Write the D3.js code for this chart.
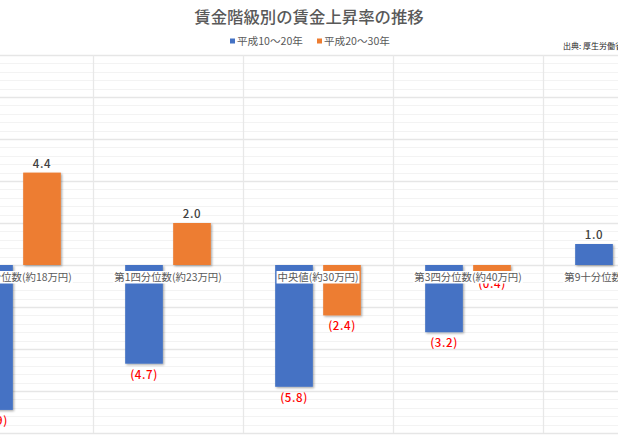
<!DOCTYPE html>
<html>
<head>
<meta charset="utf-8">
<script src="https://cdn.jsdelivr.net/npm/d3@7"></script>
<style>
  body { margin: 0; background: #fff; }
  svg { font-family: "Noto Sans CJK JP", "Noto Sans", sans-serif; }
</style>
</head>
<body>
<svg width="618" height="440"></svg>
<script>
// Chart data
var categories = ["第1十分位数(約18万円)", "第1四分位数(約23万円)", "中央値(約30万円)", "第3四分位数(約40万円)", "第9十分位数(約55万円)"];
var seriesNames = ["平成10～20年", "平成20～30年"];
var h10to20 = [-6.9, -4.7, -5.8, -3.2, 1.0];
var h20to30 = [4.4, 2.0, -2.4, -0.4, 0.6];
var colors = ["#4472C4", "#ED7D31"];

var rows = categories.map(function(c, i) {
    return {cat: c, values: [
        {s: seriesNames[0], v: h10to20[i]},
        {s: seriesNames[1], v: h20to30[i]}
    ]};
});

var svg = d3.select('svg');
var svgWidth = +svg.attr('width');

// drop shadow like the spreadsheet bars
var defs = svg.append('defs');
defs.append('filter').attr('id', 'shadow')
    .attr('x', '-20%').attr('y', '-20%').attr('width', '140%').attr('height', '140%')
  .append('feDropShadow')
    .attr('dx', 1.2).attr('dy', 1.2).attr('stdDeviation', 0.9)
    .attr('flood-color', '#000').attr('flood-opacity', 0.35);

// the plot area is wider than the picture, its sides are cut off
var plot = {l: -57, r: 693, t: 55, b: 433};

var x0 = d3.scaleBand().domain(categories).range([plot.l, plot.r]);
var x1 = d3.scaleBand().domain(seriesNames).range([0, x0.bandwidth()])
    .paddingInner(0.215).paddingOuter(0.67);
var y = d3.scaleLinear().domain([-8, 10]).range([plot.b, plot.t]);

var color = d3.scaleOrdinal().domain(seriesNames).range(colors);

// gridlines
var gridG = svg.append('g');
var minorTicks = d3.range(-8, 10.001, 0.4).filter(function(t) {
    return Math.abs(Math.round(t / 2) * 2 - t) > 0.01;
});
gridG.selectAll('.minor').data(minorTicks).enter().append('line')
    .attr('x1', 0).attr('x2', svgWidth)
    .attr('y1', function(d) { return Math.round(y(d)) + 0.5; })
    .attr('y2', function(d) { return Math.round(y(d)) + 0.5; })
    .attr('stroke', '#f3f3f3').attr('stroke-width', 1);
gridG.selectAll('.major').data(d3.range(-8, 10.001, 2)).enter().append('line')
    .attr('x1', 0).attr('x2', svgWidth)
    .attr('y1', function(d) { return Math.round(y(d)) + 0.5; })
    .attr('y2', function(d) { return Math.round(y(d)) + 0.5; })
    .attr('stroke', '#e6e6e6').attr('stroke-width', 1.3);
gridG.selectAll('.vert').data(categories.slice(1)).enter().append('line')
    .attr('x1', function(d) { return Math.round(x0(d)) + 0.5; })
    .attr('x2', function(d) { return Math.round(x0(d)) + 0.5; })
    .attr('y1', plot.t).attr('y2', plot.b)
    .attr('stroke', '#e8e8e8').attr('stroke-width', 1.3);

// bars
var groups = svg.selectAll('.grp').data(rows).enter().append('g')
    .attr('class', 'grp')
    .attr('transform', function(d) { return 'translate(' + [x0(d.cat), 0] + ')'; });

groups.selectAll('rect').data(function(d) { return d.values; }).enter().append('rect')
    .attr('x', function(d) { return x1(d.s); })
    .attr('width', x1.bandwidth())
    .attr('y', function(d) { return y(Math.max(0, d.v)); })
    .attr('height', function(d) { return Math.abs(y(d.v) - y(0)); })
    .attr('fill', function(d) { return color(d.s); })
    .attr('filter', 'url(#shadow)');

// value labels
groups.selectAll('.val').data(function(d) { return d.values; }).enter().append('text')
    .attr('class', 'val')
    .attr('x', function(d) { return x1(d.s) + x1.bandwidth() / 2; })
    .attr('y', function(d) { return d.v >= 0 ? y(d.v) - 5 : y(d.v) + 15; })
    .attr('text-anchor', 'middle')
    .style('font-size', '11.5px')
    .style('font-weight', '500')
    .style('letter-spacing', '0.6px')
    .attr('fill', function(d) { return d.v >= 0 ? '#404040' : '#ff0000'; })
    .text(function(d) {
        return d.v >= 0 ? d.v.toFixed(1) : '(' + Math.abs(d.v).toFixed(1) + ')';
    });

// category labels with white boxes
var catG = svg.selectAll('.cat').data(categories).enter().append('g').attr('class', 'cat');
var catText = catG.append('text')
    .attr('x', function(d) { return x0(d) + x0.bandwidth() / 2; })
    .attr('y', y(0) + 16)
    .attr('text-anchor', 'middle')
    .style('font-size', '10.4px')
    .attr('fill', '#595959')
    .text(function(d) { return d; });
catText.each(function() {
    var b = this.getBBox();
    d3.select(this.parentNode).insert('rect', 'text')
        .attr('x', b.x - 1).attr('y', y(0) + 6)
        .attr('width', b.width + 2).attr('height', 12.5)
        .attr('fill', '#fff');
});

// title
svg.append('text')
    .attr('x', 309).attr('y', 23)
    .attr('text-anchor', 'middle')
    .style('font-size', '16.4px')
    .style('font-weight', '500')
    .attr('fill', '#595959')
    .text('賃金階級別の賃金上昇率の推移');

// legend
var legendX = [230, 317];
var legend = svg.selectAll('.legend').data(seriesNames).enter().append('g')
    .attr('class', 'legend')
    .attr('transform', function(d, i) { return 'translate(' + [legendX[i], 41] + ')'; });
legend.append('rect')
    .attr('x', 0).attr('y', -2.5).attr('width', 5).attr('height', 5)
    .attr('fill', function(d) { return color(d); });
legend.append('text')
    .attr('x', 7).attr('y', 4)
    .style('font-size', '10.6px')
    .attr('fill', '#595959')
    .text(function(d) { return d; });

// source note
svg.append('text')
    .attr('x', 563).attr('y', 49)
    .style('font-size', '8px')
    .attr('fill', '#262626')
    .text('出典: 厚生労働省');
</script>
</body>
</html>
